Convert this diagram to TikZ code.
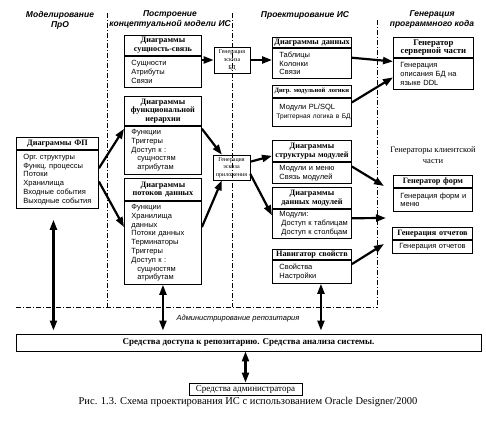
\documentclass[tikz,border=0pt]{standalone}
\usepackage{fontspec}
\setmainfont{Liberation Serif}
\setsansfont{Liberation Sans}
\usetikzlibrary{arrows.meta}

\tikzset{
  colhead/.style={font=\sffamily\bfseries\itshape\fontsize{8.5}{10}\selectfont, align=center},
  head/.style={draw, line width=0.9pt, font=\bfseries\fontsize{8.2}{8.6}\selectfont, align=center, inner xsep=2pt, inner ysep=0.5pt},
  body/.style={draw, line width=0.9pt, font=\sffamily\fontsize{7.5}{8.8}\selectfont, align=left, inner xsep=7pt, inner ysep=1pt},
  sketch/.style={draw, line width=0.6pt, font=\fontsize{6}{7.8}\selectfont, align=center, inner sep=1pt},
  border/.style={line width=0.6pt, dash pattern=on 5pt off 2pt on 1pt off 2pt},
  arr/.style={line width=2.2pt, -{Triangle[length=10pt,width=7pt]}},
  darr/.style={line width=2.2pt, {Triangle[length=10pt,width=7pt]}-{Triangle[length=10pt,width=7pt]}},
}

% name, top left, width, head height, body height, head, body
\newcommand{\diag}[7]{%
  \pgfmathsetmacro\hwidth{#3-4}\pgfmathsetmacro\bwidth{#3-14}%
  \node[head, anchor=north west, minimum height=#4pt, text width=\hwidth pt] (#1) at (#2) {#6};
  \node[body, anchor=north west, minimum height=#5pt, text width=\bwidth pt] (#1 b) at (#1.south west) {#7};
}

\begin{document}
\begin{tikzpicture}[x=1pt, y=-1pt]
  \useasboundingbox (0,0) rectangle (486,430);

  % zones
  \draw[border] (107,13) -- (107,307);
  \draw[border] (232,13) -- (232,307);
  \draw[border] (377,20) -- (377,309);
  \draw[border] (16,307) -- (377,307);

  \node[colhead] (zone1) at (60,20) {Моделирование\\ПрО};
  \node[colhead] (zone2) at (170,19) {Построение\\концептуальной модели ИС};
  \node[colhead] (zone3) at (305,15) {Проектирование ИС};
  \node[colhead] (zone4) at (432,19) {Генерация\\программного кода};

  \diag{fp}{16,137}{82}{12}{58}{Диаграммы ФП}{Орг.~структуры\\Функц.~процессы\\Потоки\\Хранилища\\Входные~события\\Выходные~события}

  \diag{er}{124,35}{77}{20}{31}{Диаграммы\\сущность-связь}{Сущности\\Атрибуты\\Связи}
  \diag{fh}{124,96}{77}{29}{48}{Диаграммы\\функциональной\\иерархии}{Функции\\Триггеры\\Доступ~к~:\\\hspace*{6pt}сущностям\\\hspace*{6pt}атрибутам}
  \diag{dfd}{124,178}{77}{22}{83}{Диаграммы\\потоков данных}{Функции\\Хранилища\\данных\\Потоки~данных\\Терминаторы\\Триггеры\\Доступ~к~:\\\hspace*{6pt}сущностям\\\hspace*{6pt}атрибутам}

  \node[sketch, minimum width=36pt, minimum height=26pt] (gdb) at (232,60) {Генерация\\эскиза\\БД};
  \node[sketch, minimum width=37pt, minimum height=25pt] (gapp) at (231.5,167.5) {Генерация\\эскиза\\приложения};

  \diag{dd}{272,37}{79}{10}{30}{Диаграммы~данных}{Таблицы\\Колонки\\Связи}
  \diag{ml}{272,85}{79}{12}{28}{\fontsize{6.5}{8}\selectfont Дигр.~модульной~логики}{Модули~PL/SQL\\\hspace*{-3pt}{\fontsize{6.6}{8}\selectfont Триггерная~логика~в~БД}}
  \diag{sm}{272,140}{79}{21}{21}{Диаграммы\\структуры модулей}{Модули~и~меню\\Связь~модулей}
  \diag{dm}{272,187}{79}{21}{29}{Диаграммы\\данных модулей}{Модули:\\\hspace*{2pt}Доступ~к~таблицам\\\hspace*{2pt}Доступ~к~столбцам}
  \diag{nav}{272,249}{79}{10}{23}{Навигатор~свойств}{Свойства\\Настройки}

  \diag{srv}{393,37}{80}{20}{31}{\fontsize{8.7}{9}\selectfont Генератор\\\fontsize{8.7}{9}\selectfont серверной части}{Генерация\\описания~БД~на\\языке~DDL}
  \node[font=\fontsize{8.5}{10.5}\selectfont, align=center] (client) at (433,155) {Генераторы клиентской\\части};
  \diag{frm}{393,175}{79}{12}{23}{Генератор~форм}{Генерация~форм~и\\меню}
  \diag{rep}{392,227}{80}{12}{13}{Генерация~отчетов}{Генерация~отчетов}

  \coordinate (cl1) at (384,186);
  \coordinate (cl2) at (386,218);
  \coordinate (cl3) at (384,244);

  \node[draw, line width=0.9pt, minimum width=465pt, minimum height=17pt, font=\bfseries\fontsize{9}{10}\selectfont] (repo) at (248.5,342.5) {Средства доступа к репозитарию. Средства анализа системы.};
  \node[draw, line width=0.9pt, minimum width=113pt, minimum height=12pt, inner sep=1pt, font=\fontsize{9}{10}\selectfont] (adm) at (245.5,389) {Средства администратора};
  \node[font=\sffamily\itshape\fontsize{7.5}{9}\selectfont] (admlabel) at (238,319) {Администрирование репозитария};
  \node[font=\fontsize{10.5}{12}\selectfont] (caption) at (248,402) {Рис. 1.3. Схема проектирования ИС с использованием Oracle Designer/2000};

  % arrows
  \draw[arr] (er b.east |- gdb.west) -- (gdb.west);
  \draw[arr] (gdb.east) -- (dd b.west |- gdb.east);
  \draw[arr] (dd b.8) -- (srv b.163);
  \draw[arr] (ml b.14) -- (srv b.185);
  \draw[arr] (fp b.15) -- (fh b.151);
  \draw[arr] (fp b.-3) -- (dfd b.158);
  \draw[arr] (fh b.29) -- (gapp.127);
  \draw[arr] (dfd b.22) -- (gapp.233);
  \draw[arr] (gapp.17) -- (sm.187);
  \draw[arr] (gapp.-19) -- (dm b.168);
  \draw[arr] (sm b.9) -- (cl1);
  \draw[arr] (dm b.8) -- (cl2);
  \draw[arr] (nav b.11) -- (cl3);

  \draw[darr, shorten <=11pt, shorten >=3pt] ([xshift=-4pt]fp b.south) -- ([xshift=-4pt]fp b.south |- repo.north);
  \draw[darr, shorten >=3pt] (dfd b.south) -- (dfd b.south |- repo.north);
  \draw[darr, shorten >=3pt] ([xshift=9pt]nav b.south) -- ([xshift=9pt]nav b.south |- repo.north);
  \draw[darr] (adm.north |- repo.south) -- (adm.north);
\end{tikzpicture}
\end{document}
